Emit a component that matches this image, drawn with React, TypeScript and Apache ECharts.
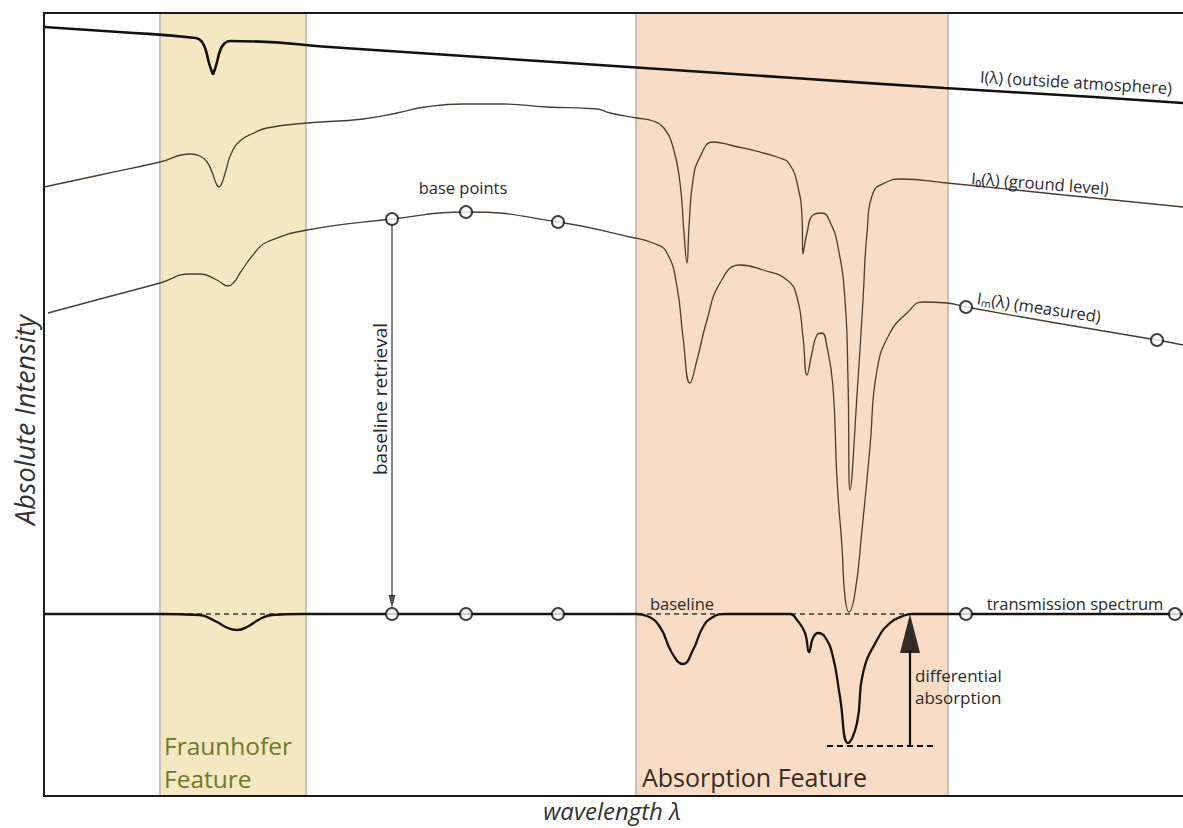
import React, { useEffect, useRef } from "react";
import * as echarts from "echarts";

// x: wavelength (arbitrary units, 0..1139), y: absolute intensity (arbitrary units, 0..783)
const outsideAtmosphere: [number, number][] = [
  [0, 769], [75, 764], [152, 758], [158, 754], [162, 745], [165, 733], [168, 724], [169, 722],
  [170, 724], [173, 734], [176, 745], [180, 752], [186, 755], [300, 748], [450, 738],
  [600, 728], [750, 718], [900, 708], [1050, 699], [1139, 693],
];

const groundLevel: [number, number][] = [
  [0, 609], [56, 621], [116, 634], [146, 642], [156, 640], [163, 634], [168, 624],
  [172, 613], [175, 609], [178, 613], [182, 626], [187, 642], [196, 655], [210, 663],
  [223, 668], [263, 673], [319, 677], [353, 683], [381, 689], [419, 692], [459, 692],
  [503, 689], [553, 687], [566, 683], [593, 678], [609, 675], [619, 669], [629, 649],
  [636, 613], [640, 563], [643, 533], [645, 569], [649, 616], [656, 639], [669, 654],
  [686, 651], [736, 638], [746, 631], [754, 609], [758, 579], [759, 542], [763, 563],
  [769, 581], [778, 583], [786, 574], [794, 549], [801, 496], [804, 416], [806, 306],
  [814, 416], [819, 496], [823, 563], [829, 603], [843, 614], [856, 617], [903, 613],
  [1020, 601], [1139, 589],
];

const measured: [number, number][] = [
  [4, 483], [56, 497], [116, 513], [146, 522], [156, 522], [173, 516], [184, 510],
  [191, 515], [196, 523], [213, 546], [223, 554], [263, 566], [348, 577], [422, 584],
  [514, 574], [586, 559], [609, 553], [623, 543], [633, 509], [639, 459], [646, 413],
  [653, 436], [663, 476], [676, 513], [696, 531], [719, 526], [743, 516], [753, 499],
  [759, 459], [763, 421], [768, 443], [773, 461], [778, 463], [783, 449], [789, 409],
  [793, 316], [798, 249], [801, 199], [805, 184], [811, 203], [818, 266], [826, 349],
  [833, 426], [846, 463], [863, 483], [879, 494], [903, 493], [922, 489], [1018, 472],
  [1113, 456], [1139, 451],
];

const transmission: [number, number][] = [
  [0, 182], [116, 182], [155, 181], [171, 175], [184, 168], [193, 166], [203, 169],
  [216, 177], [228, 181], [256, 182], [592, 182], [603, 180], [616, 169], [628, 143],
  [639, 132], [649, 146], [659, 169], [669, 179], [681, 182], [746, 182], [753, 176],
  [761, 163], [765, 144], [769, 158], [774, 163], [781, 159], [789, 139], [796, 99],
  [804, 53], [813, 73], [819, 123], [833, 156], [846, 173], [859, 180], [868, 182],
  [1139, 182],
];

const measuredBasePoints: [number, number][] = [
  [348, 577], [422, 584], [514, 574], [922, 489], [1113, 456],
];
const transmissionBasePoints: [number, number][] = [
  [348, 182], [422, 182], [514, 182], [922, 182], [1131, 182],
];

const baselineLevel = 182;
const xMin = 0;
const xMax = 1139;
const yMin = 0;
const yMax = 783;

const fraunhoferBand = [116, 262];
const absorptionBand = [592, 904];

const diffAbsorptionLevel = 50;
const diffAbsorptionSpan = [783, 891];
const diffArrowX = 866;
const retrievalArrowX = 348;

const FONT = '"Open Sans", "Noto Sans", sans-serif';
const THIN = "#4a3c31";

function txt(
  text: string,
  x: number,
  y: number,
  size: number,
  opts: { rot?: number; align?: string; fill?: string; style?: string } = {}
) {
  const align = opts.align || "center";
  return {
    type: "text",
    x,
    y,
    rotation: opts.rot || 0,
    z: 50,
    silent: true,
    style: {
      text,
      fill: opts.fill || "#2a2a2a",
      font: `${opts.style || "normal"} ${size}px ${FONT}`,
      align,
      textAlign: align,
      verticalAlign: "middle",
      textVerticalAlign: "middle",
    },
  };
}

export default function App() {
  const ref = useRef<HTMLDivElement>(null);

  useEffect(() => {
    const chart = echarts.init(ref.current!, null, { renderer: "svg" });
    const lineBase = {
      type: "line",
      symbol: "none",
      showSymbol: false,
      smooth: 0.5,
      silent: true,
    };
    const axisCommon = {
      type: "value",
      z: 20,
      axisLine: { show: true, lineStyle: { color: "#1a1a1a", width: 2 } },
      axisTick: { show: false },
      axisLabel: { show: false },
      splitLine: { show: false },
    };
    const option: any = {
      animation: false,
      backgroundColor: "#ffffff",
      grid: { left: 44, top: 13, right: 0, bottom: 32 },
      xAxis: [
        { ...axisCommon, min: xMin, max: xMax },
        { ...axisCommon, position: "top", min: xMin, max: xMax },
      ],
      yAxis: { ...axisCommon, min: yMin, max: yMax },
      series: [
        {
          type: "line",
          data: [],
          z: 1,
          silent: true,
          markArea: {
            silent: true,
            data: [
              [
                {
                  xAxis: fraunhoferBand[0],
                  itemStyle: { color: "#f6e7c3", borderColor: "#c9c4ba", borderWidth: 2 },
                },
                { xAxis: fraunhoferBand[1] },
              ],
              [
                {
                  xAxis: absorptionBand[0],
                  itemStyle: { color: "#f8dcc6", borderColor: "#c9c2bb", borderWidth: 2 },
                },
                { xAxis: absorptionBand[1] },
              ],
            ],
          },
        },
        {
          type: "line",
          symbol: "none",
          silent: true,
          z: 3,
          data: [
            [xMin, baselineLevel],
            [xMax, baselineLevel],
          ],
          lineStyle: { color: "#3a3a3a", width: 1.3, type: [5, 4] },
        },
        {
          ...lineBase,
          name: "I(λ) outside atmosphere",
          z: 5,
          data: outsideAtmosphere,
          lineStyle: { color: "#111", width: 2.6 },
        },
        {
          ...lineBase,
          name: "I0(λ) ground level",
          z: 5,
          data: groundLevel,
          lineStyle: { color: THIN, width: 1.3 },
        },
        {
          ...lineBase,
          name: "Im(λ) measured",
          z: 5,
          data: measured,
          lineStyle: { color: THIN, width: 1.3 },
        },
        {
          ...lineBase,
          name: "transmission spectrum",
          z: 6,
          data: transmission,
          lineStyle: { color: "#1a120c", width: 2.3 },
        },
        {
          type: "line",
          symbol: "none",
          silent: true,
          z: 6,
          data: [
            [diffAbsorptionSpan[0], diffAbsorptionLevel],
            [diffAbsorptionSpan[1], diffAbsorptionLevel],
          ],
          lineStyle: { color: "#111", width: 2, type: [6, 4] },
        },
        {
          type: "line",
          symbol: "none",
          silent: true,
          z: 7,
          data: [
            [diffArrowX, diffAbsorptionLevel],
            [diffArrowX, 145],
          ],
          lineStyle: { color: "#111", width: 2.2 },
        },
        {
          type: "scatter",
          silent: true,
          z: 8,
          symbol: "triangle",
          symbolSize: [20, 39],
          itemStyle: { color: "#000" },
          data: [[diffArrowX, 162.5]],
        },
        {
          type: "line",
          symbol: "none",
          silent: true,
          z: 7,
          data: [
            [retrievalArrowX, 571],
            [retrievalArrowX, 199],
          ],
          lineStyle: { color: "#333", width: 1.2 },
        },
        {
          type: "scatter",
          silent: true,
          z: 8,
          symbol: "triangle",
          symbolRotate: 180,
          symbolSize: [7, 13],
          itemStyle: { color: "#222" },
          data: [[retrievalArrowX, 194.5]],
        },
        {
          type: "scatter",
          silent: true,
          z: 9,
          symbol: "circle",
          symbolSize: 12,
          itemStyle: { color: "#fff", borderColor: "#111", borderWidth: 2 },
          data: measuredBasePoints,
        },
        {
          type: "scatter",
          silent: true,
          z: 9,
          symbol: "circle",
          symbolSize: 12,
          itemStyle: { color: "#fff", borderColor: "#111", borderWidth: 2 },
          data: transmissionBasePoints,
        },
      ],
      graphic: [
        txt("Absolute Intensity", 24, 420, 27, { rot: Math.PI / 2, style: "italic", fill: "#333" }),
        txt("wavelength λ", 612, 810, 24, { style: "italic", fill: "#333" }),
        txt("I(λ) (outside atmosphere)", 1076, 82, 16.5, { rot: -0.06 }),
        txt("I₀(λ) (ground level)", 1040, 183, 16.5, { rot: -0.075 }),
        txt("Iₘ(λ) (measured)", 1039, 307, 16.5, { rot: -0.15 }),
        txt("base points", 463, 187, 16.5),
        txt("baseline retrieval", 380, 399, 19, { rot: Math.PI / 2 }),
        txt("baseline", 682, 603, 16.5),
        txt("transmission spectrum", 1075, 603, 16.5),
        txt("differential", 915, 675, 17, { align: "left" }),
        txt("absorption", 915, 697, 17, { align: "left" }),
        txt("Fraunhofer", 164, 745, 24.5, { align: "left", fill: "#6b7a26" }),
        txt("Feature", 164, 778, 24.5, { align: "left", fill: "#6b7a26" }),
        txt("Absorption Feature", 642, 777, 25, { align: "left", fill: "#3a2a22" }),
      ],
    };
    chart.setOption(option);
    return () => chart.dispose();
  }, []);

  return (
    <div
      ref={ref}
      style={{
        position: "absolute",
        left: 0,
        top: 0,
        width: 1183,
        height: 828,
        background: "#fff",
      }}
    />
  );
}
